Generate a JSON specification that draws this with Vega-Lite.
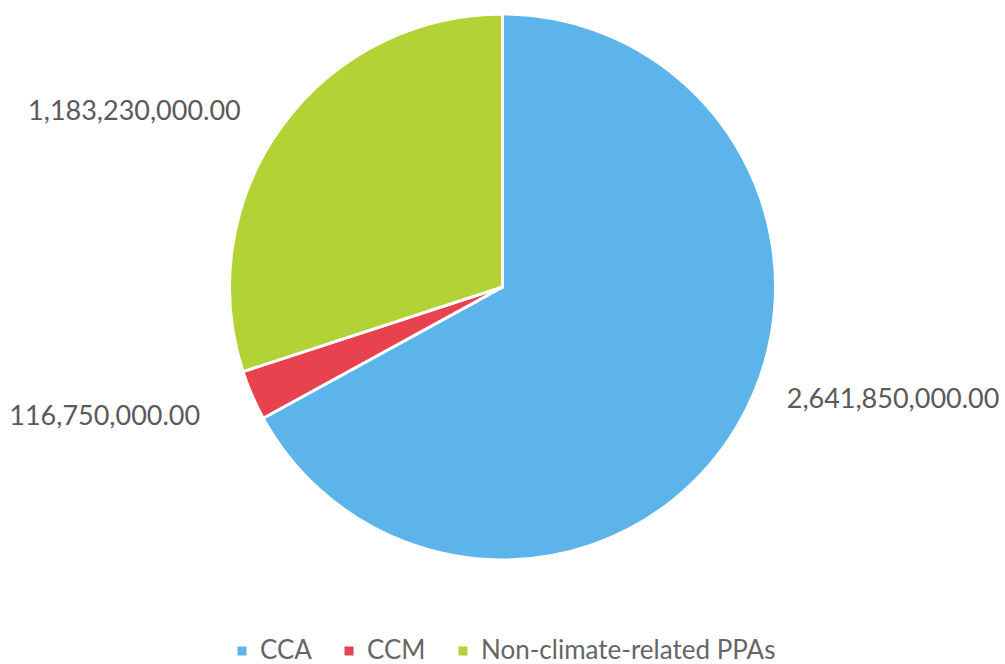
{
  "$schema": "https://vega.github.io/schema/vega-lite/v6.json",
  "width": 1005,
  "height": 574,
  "padding": 0,
  "background": "white",
  "data": {"values": [
    {"category": "CCA", "value": 2641850000},
    {"category": "CCM", "value": 116750000},
    {"category": "Non-climate-related PPAs", "value": 1183230000}
  ]},
  "encoding": {
    "theta": {"field": "value", "type": "quantitative", "stack": true},
    "order": {"field": "category", "sort": "ascending"}
  },
  "layer": [
    {
      "mark": {"type": "arc", "outerRadius": 273, "stroke": "white", "strokeWidth": 3},
      "encoding": {
        "color": {
          "field": "category", "type": "nominal",
          "scale": {"domain": ["CCA", "CCM", "Non-climate-related PPAs"], "range": ["#5db4ea", "#e8424f", "#b3d236"]},
          "legend": {"title": null, "orient": "bottom", "direction": "horizontal", "offset": 64, "symbolType": "square", "symbolSize": 110, "labelFontSize": 26, "labelFont": "Lato", "labelColor": "#666666", "labelLimit": 0, "columnPadding": 24, "symbolOffset": 0, "labelOffset": 5}
        }
      }
    },
    {
      "mark": {"type": "text", "radius": 285, "align": "left", "baseline": "middle", "dx": 39, "dy": -32, "fontSize": 27, "font": "Lato", "fill": "#5a5a5a"},
      "encoding": {
        "detail": {"field": "category"},
        "text": {"condition": {"test": "datum.category === 'CCA'", "field": "value", "type": "quantitative", "format": ",.2f"}, "value": ""}
      }
    },
    {
      "mark": {"type": "text", "radius": 300, "align": "right", "baseline": "middle", "dx": -27, "dy": 11, "fontSize": 27, "font": "Lato", "fill": "#5a5a5a"},
      "encoding": {
        "detail": {"field": "category"},
        "text": {"condition": {"test": "datum.category === 'CCM'", "field": "value", "type": "quantitative", "format": ",.2f"}, "value": ""}
      }
    },
    {
      "mark": {"type": "text", "radius": 290, "align": "right", "baseline": "middle", "dx": -27, "dy": -5, "fontSize": 27, "font": "Lato", "fill": "#5a5a5a"},
      "encoding": {
        "detail": {"field": "category"},
        "text": {"condition": {"test": "datum.category === 'Non-climate-related PPAs'", "field": "value", "type": "quantitative", "format": ",.2f"}, "value": ""}
      }
    }
  ],
  "config": {"view": {"stroke": null}, "legend": {"layout": {"bottom": {"anchor": "middle"}}}}
}
